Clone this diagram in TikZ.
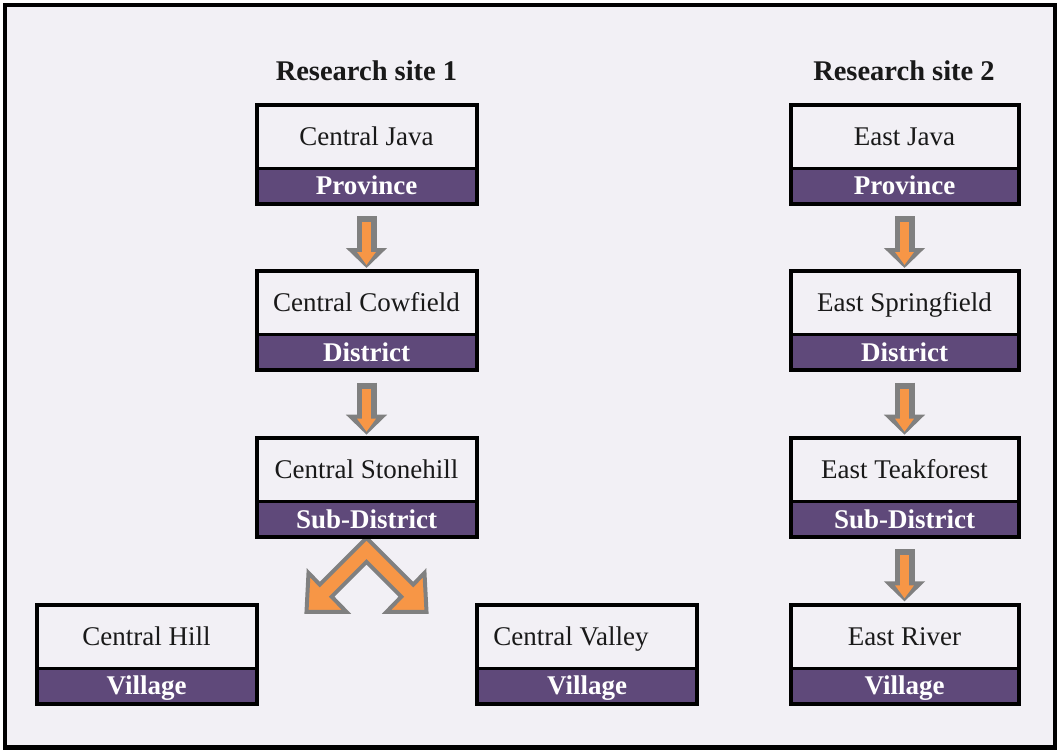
\documentclass[tikz,border=0pt]{standalone}
\usepackage{fontspec}
\setmainfont{Liberation Serif}
\usetikzlibrary{positioning, arrows.meta}
\definecolor{bgpaper}{HTML}{F2F0F5}
\definecolor{bandpurple}{HTML}{5F497A}
\definecolor{arroworange}{HTML}{F79646}
\definecolor{arrowgray}{HTML}{808080}
\tikzset{
  place/.style={rectangle, minimum width=#1, minimum height=63.5pt, inner sep=0pt, outer sep=0pt, text height=24pt, text depth=6pt, text centered, text=black!90, font=\fontsize{27}{32}\selectfont},
  place/.default=220pt,
  level/.style={rectangle, fill=bandpurple, text=white, minimum width=#1, minimum height=35.5pt, inner sep=0pt, outer sep=0pt, text height=24pt, text depth=6pt, font=\fontsize{27}{32}\selectfont\bfseries},
  level/.default=220pt,
  heading/.style={font=\fontsize{28.5}{32}\selectfont\bfseries, text=black!90},
  frame/.style={draw=black, line width=4pt},
  divider/.style={draw=black, line width=3pt},
  flowout/.style={draw=arrowgray, line width=20pt, -{Triangle[width=40pt,length=20pt]}, shorten <=12.5pt, shorten >=3.2pt},
  flowin/.style={draw=arroworange, line width=9pt, -{Triangle[width=18pt,length=13pt]}, shorten <=18.5pt, shorten >=6.2pt},
  forkarrow/.style={draw=arrowgray, fill=arroworange, line width=4pt, line join=miter}
}
\begin{document}
\begin{tikzpicture}[x=1pt, y=-1pt]
  \useasboundingbox (0,0) rectangle (1060,752);
  \fill[white] (0,0) rectangle (1060,752);
  \draw[fill=bgpaper, line width=4.5pt] (5,5) rectangle (1055,747.5);

  % research site 1
  \node (site1) [heading] at (366.5,70.5) {Research site 1};
  \node (cj) [place] at (366.5,136.25) {Central Java};
  \node (cjp) [level, below=0pt of cj] {Province};
  \node (cc) [place, below=67.7pt of cjp] {Central Cowfield};
  \node (ccd) [level, below=0pt of cc] {District};
  \node (cs) [place, below=67.7pt of ccd] {Central Stonehill};
  \node (css) [level, below=0pt of cs] {Sub-District};
  \node (ch) [place] at (146.5,636.4) {Central Hill};
  \node (chv) [level, below=0pt of ch] {Village};
  \node (cv) [place] at (587,636.4) {Central Valley\hspace*{32pt}};
  \node (cvv) [level, below=0pt of cv] {Village};

  % research site 2
  \node (site2) [heading] at (904,70.5) {Research site 2};
  \node (ej) [place=228pt] at (904.5,136.25) {East Java};
  \node (ejp) [level=228pt, below=0pt of ej] {Province};
  \node (es) [place=228pt, below=67.7pt of ejp] {East Springfield};
  \node (esd) [level=228pt, below=0pt of es] {District};
  \node (et) [place=228pt, below=67.7pt of esd] {East Teakforest};
  \node (ets) [level=228pt, below=0pt of et] {Sub-District};
  \node (er) [place=228pt, below=67.7pt of ets] {East River};
  \node (erv) [level=228pt, below=0pt of er] {Village};

  % arrows between levels
  \foreach \a/\b in {cjp/cc, ccd/cs, ejp/es, esd/et, ets/er}{
    \draw [flowout] (\a) -- (\b);
    \draw [flowin] (\a) -- (\b);
  }
  \begin{scope}[shift={([yshift=-1pt]css.south)}]
    \draw [forkarrow] (0,0) -- (46.7,46.7) -- (58,35) -- (60,74) -- (20,74) -- (34.8,58.8) -- (0,24)
      -- (-34.8,58.8) -- (-20,74) -- (-60,74) -- (-58,35) -- (-46.7,46.7) -- cycle;
  \end{scope}

  % box outlines
  \foreach \a/\b in {cj/cjp, cc/ccd, cs/css, ch/chv, cv/cvv, ej/ejp, es/esd, et/ets, er/erv}{
    \draw [divider] (\b.north west) -- (\b.north east);
    \draw [frame] (\a.north west) rectangle (\b.south east);
  }
\end{tikzpicture}
\end{document}
